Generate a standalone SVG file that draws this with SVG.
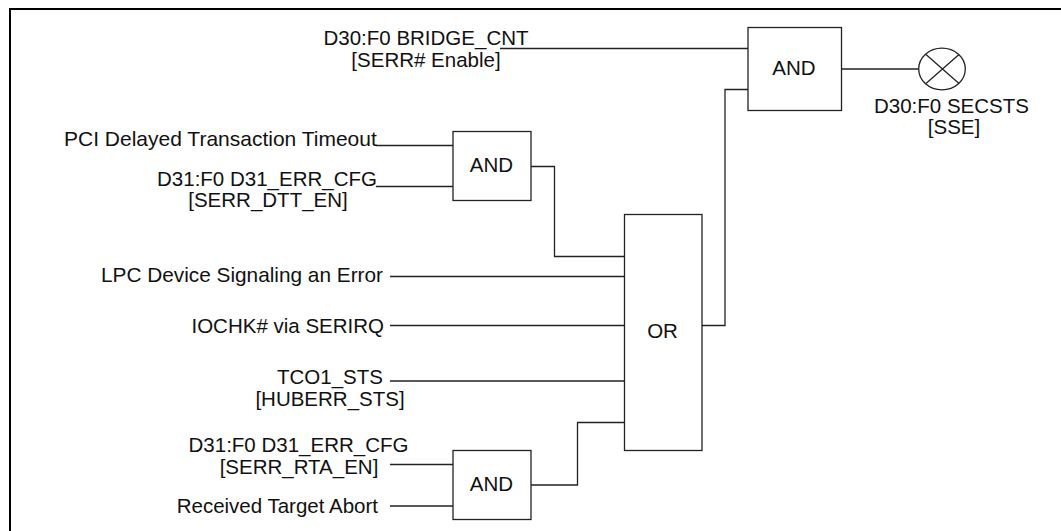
<svg xmlns="http://www.w3.org/2000/svg" width="1061" height="531" viewBox="0 0 1061 531">
<style>
.b{fill:#fff;stroke:#222;stroke-width:1.3}
.c{fill:none;stroke:#222;stroke-width:1.3}
text{font-family:"Liberation Sans",Arial,sans-serif;font-size:20.500px;fill:#111}
.m{text-anchor:middle}
.e{text-anchor:end}
</style>
<rect width="1061" height="531" fill="#fff"/>
<path id="frame" d="M10 531V9H1061" fill="none" stroke="#000" stroke-width="2"/>
<g id="connectors">
<path class="c" d="M500 48.500H748"/>
<path class="c" d="M376 145.500H453"/>
<path class="c" d="M376 186.500H453"/>
<path class="c" d="M531 166.500H554.500V256.500H624.500"/>
<path class="c" d="M390 276.500H624.500"/>
<path class="c" d="M390 325.500H624.500"/>
<path class="c" d="M390 381H624.500"/>
<path class="c" d="M390 464.500H453"/>
<path class="c" d="M390 506H453"/>
<path class="c" d="M531 485H577.500V422.500H624.500"/>
<path class="c" d="M702 325.500H725V89.500H748"/>
<path class="c" d="M841 69H919"/>
</g>
<g id="and-top"><rect class="b" x="748" y="27.500" width="93.500" height="83"/><text class="m" x="794" y="75">AND</text></g>
<g id="and-upper"><rect class="b" x="453" y="131.500" width="78" height="69"/><text class="m" x="491.500" y="172">AND</text></g>
<g id="or"><rect class="b" x="624.500" y="214.500" width="77.500" height="236"/><text class="m" x="662.500" y="338">OR</text></g>
<g id="and-lower"><rect class="b" x="453" y="450.500" width="78" height="69"/><text class="m" x="491.500" y="491">AND</text></g>
<g id="lamp"><ellipse class="b" cx="942" cy="69" rx="23.300" ry="20.800"/><path class="c" d="M926 54.500L959 83.500M959 54.500L926 83.500"/></g>
<g id="l1"><text class="m" x="426" y="45">D30:F0 BRIDGE_CNT</text><text class="m" x="426" y="67">[SERR# Enable]</text></g>
<g id="l2"><text x="64" y="146" style="font-size:21px">PCI Delayed Transaction Timeout</text></g>
<g id="l3"><text class="m" x="267" y="185.500">D31:F0 D31_ERR_CFG</text><text class="m" x="268" y="207">[SERR_DTT_EN]</text></g>
<g id="l4"><text class="e" x="383" y="281.500" style="font-size:20.800px">LPC Device Signaling an Error</text></g>
<g id="l5"><text class="e" x="384" y="333">IOCHK# via SERIRQ</text></g>
<g id="l6"><text class="e" x="383" y="383.500">TCO1_STS</text><text class="m" x="330" y="406">[HUBERR_STS]</text></g>
<g id="l7"><text class="m" x="298.500" y="452">D31:F0 D31_ERR_CFG</text><text class="m" x="299" y="474">[SERR_RTA_EN]</text></g>
<g id="l8"><text class="e" x="378" y="513">Received Target Abort</text></g>
<g id="l9"><text class="m" x="951.500" y="112.500">D30:F0 SECSTS</text><text class="m" x="954" y="134">[SSE]</text></g>
</svg>
